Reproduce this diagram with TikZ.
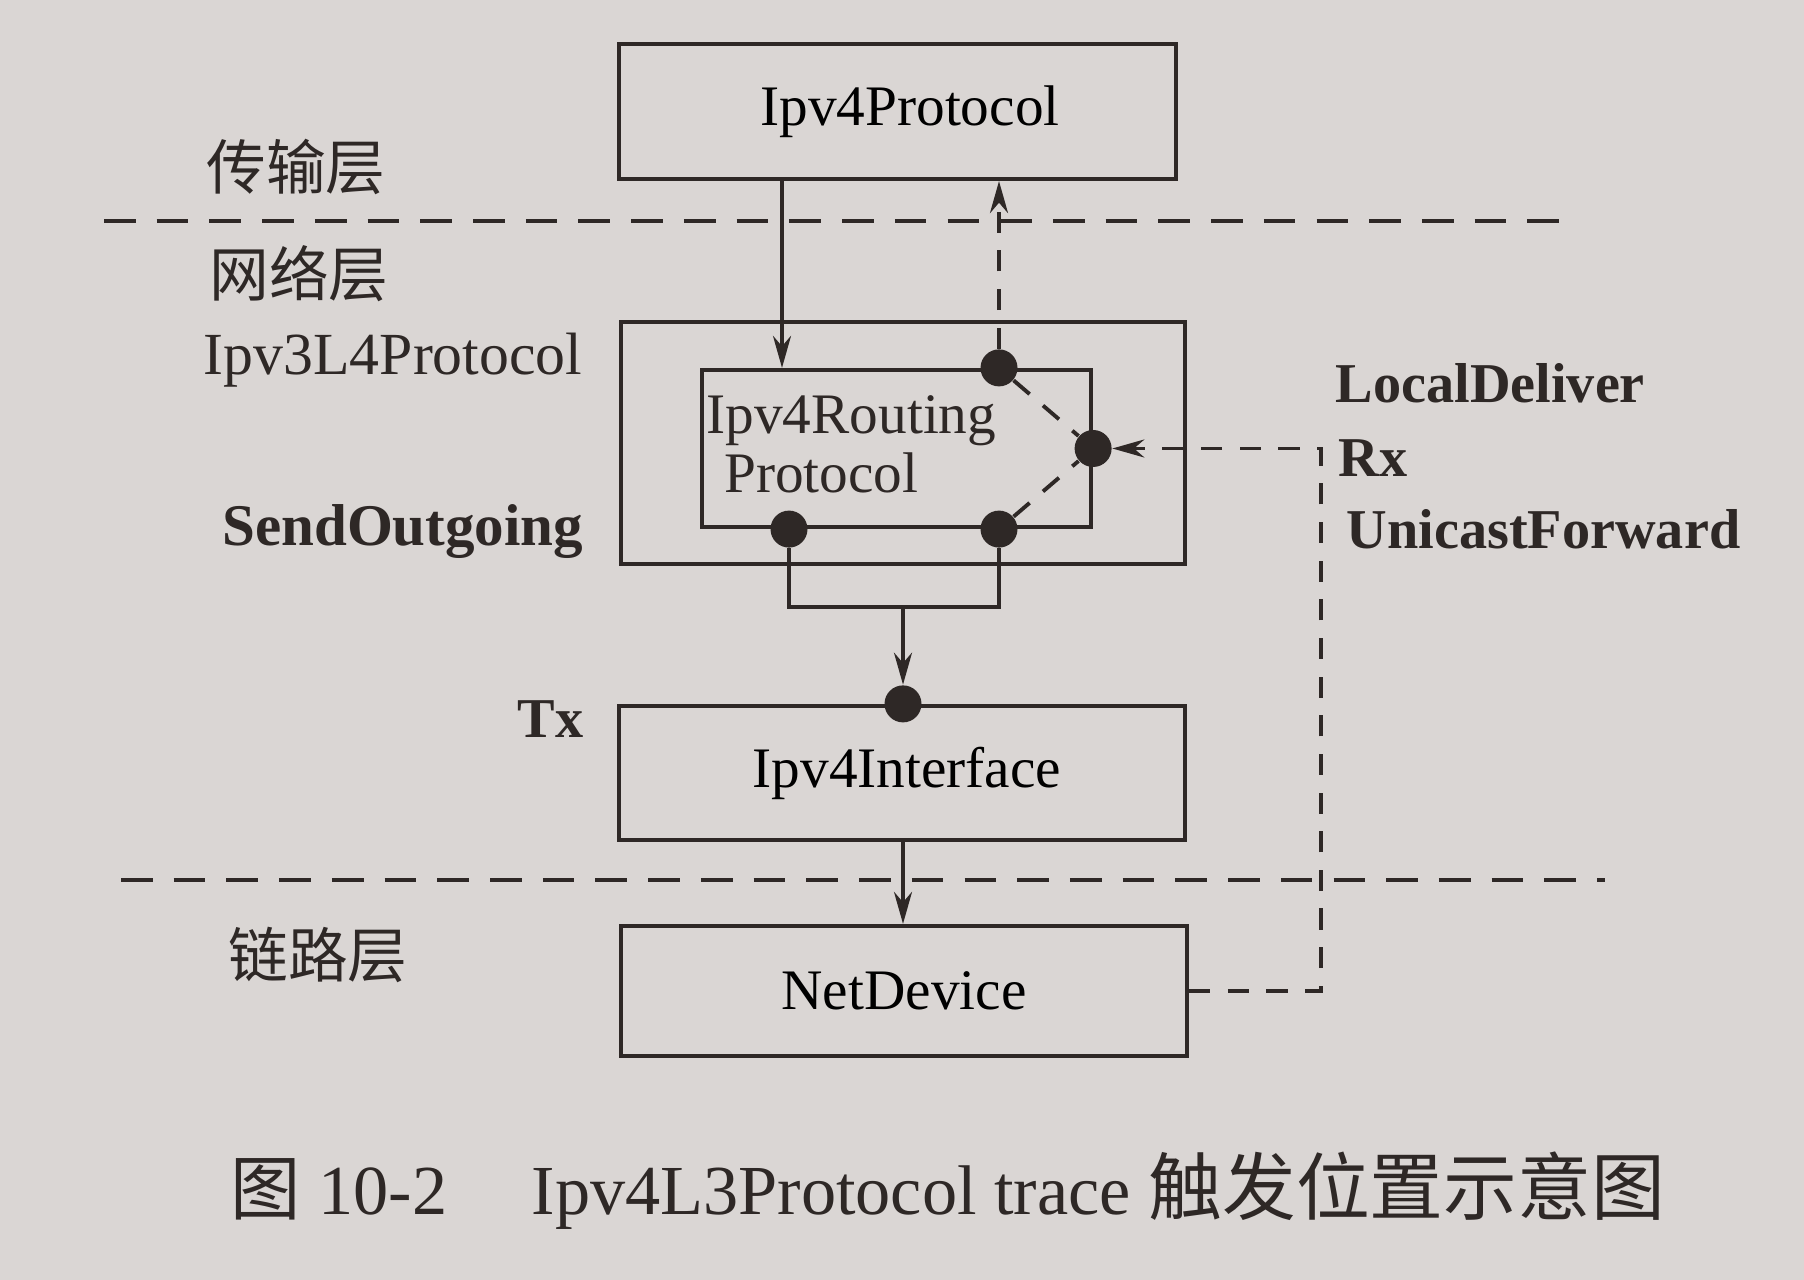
\documentclass[tikz,border=0pt]{standalone}
\usepackage{fontspec}
\setmainfont{Liberation Serif}
\newfontfamily\cjk{Noto Sans CJK SC}
\usetikzlibrary{arrows.meta, calc}
\definecolor{paper}{HTML}{DAD6D4}
\definecolor{ink}{HTML}{2E2826}
\tikzset{
  box/.style={draw=ink, line width=1.2pt, inner sep=0pt, font=\fontsize{16.3}{19}\selectfont},
  dot/.style={circle, fill=ink, inner sep=0pt, minimum size=3.7mm},
  arr/.style={-{Stealth[length=3.2mm, width=1.8mm]}, line width=1.1pt, color=ink},
  darr/.style={arr, dash pattern=on 6pt off 5pt},
  dline/.style={line width=1.1pt, color=ink, dash pattern=on 6pt off 5pt},
  layer/.style={line width=1.1pt, color=ink, dash pattern=on 9pt off 6pt},
  lab/.style={text=ink, inner sep=0pt, font=\fontsize{16}{19}\selectfont},
  blab/.style={lab, font=\fontsize{16}{19}\selectfont\bfseries},
  zh/.style={text=ink, inner sep=0pt, font=\fontsize{17}{19}\selectfont\cjk}
}
\begin{document}
\begin{tikzpicture}
\fill[paper] (0,0) rectangle (18.04,-12.80);
\useasboundingbox (0,0) rectangle (18.04,-12.80);

% layers
\draw[layer] (1.04,-2.21) -- (15.70,-2.21);
\draw[layer] (1.21,-8.80) -- (16.05,-8.80);
\node[zh] (transport) at (2.96,-1.67) {传输层};
\node[zh] (network) at (2.99,-2.74) {网络层};
\node[zh] (link) at (3.18,-9.55) {链路层};

% boxes
\node[box, minimum width=5.57cm, minimum height=1.35cm] (proto) at (8.975,-1.115) {\hspace{0.25cm}Ipv4Protocol};
\node[box, minimum width=5.64cm, minimum height=2.42cm] (ltp) at (9.03,-4.43) {};
\node[box, minimum width=3.89cm, minimum height=1.57cm] (routing) at (8.965,-4.485) {};
\node[lab, anchor=north west, align=left, font=\fontsize{16.3}{16.8}\selectfont]
  (routingtxt) at ($(routing.north west)+(0.06,-0.27)$) {Ipv4Routing\\\hspace{5pt}Protocol};
\node[box, minimum width=5.66cm, minimum height=1.34cm] (iface) at (9.02,-7.73) {\hspace{0.1cm}Ipv4Interface};
\node[box, minimum width=5.66cm, minimum height=1.30cm] (netdev) at (9.04,-9.91) {NetDevice};

% trace points
\coordinate (xin) at (7.82,0);
\coordinate (xup) at (9.99,0);
\coordinate (xtx) at (9.03,0);
\coordinate (xrx) at (13.21,0);
\node[dot] (dtop) at (routing.north -| xup) {};
\node[dot] (dright) at (routing.east) {};
\node[dot] (dbl) at (routing.south -| 7.89,0) {};
\node[dot] (dbr) at (routing.south -| xup) {};
\node[dot] (dtx) at (iface.north -| xtx) {};
\coordinate (merge) at (9.03,-6.07);

% connectors
\draw[arr] (proto.south -| xin) -- (routing.north -| xin);
\draw[darr] (dtop) -- (proto.south -| xup);
\draw[dline] (dtop) -- (dright);
\draw[dline] (dbr) -- (dright);
\draw[line width=1.1pt, color=ink] (dbl) -- (dbl |- merge) -- (dbr |- merge) -- (dbr);
\draw[arr] (merge) -- (dtx);
\draw[arr] (iface.south -| xtx) -- (netdev.north -| xtx);
\draw[darr] (netdev.east) -- (netdev.east -| xrx) -- (xrx |- dright) -- (dright);

% labels
\node[lab, anchor=east, font=\fontsize{17}{19}\selectfont] (ltplab) at (5.83,-3.60) {Ipv3L4Protocol};
\node[blab, anchor=east, font=\fontsize{16.8}{19}\selectfont\bfseries] (sendlab) at (5.84,-5.32) {SendOutgoing};
\node[blab, anchor=east] (txlab) at (5.84,-7.19) {Tx};
\node[blab, anchor=west] (locallab) at (13.35,-3.83) {LocalDeliver};
\node[blab, anchor=west] (rxlab) at (13.38,-4.58) {Rx};
\node[blab, anchor=west] (unilab) at (13.46,-5.29) {UnicastForward};

% caption
\node[lab, anchor=west, font=\fontsize{20}{24}\selectfont] (caption) at (2.30,-11.91)
  {{\cjk 图} 10-2\hspace{1.2em}Ipv4L3Protocol trace {\fontsize{21}{24}\selectfont\cjk 触发位置示意图}};
\end{tikzpicture}
\end{document}
